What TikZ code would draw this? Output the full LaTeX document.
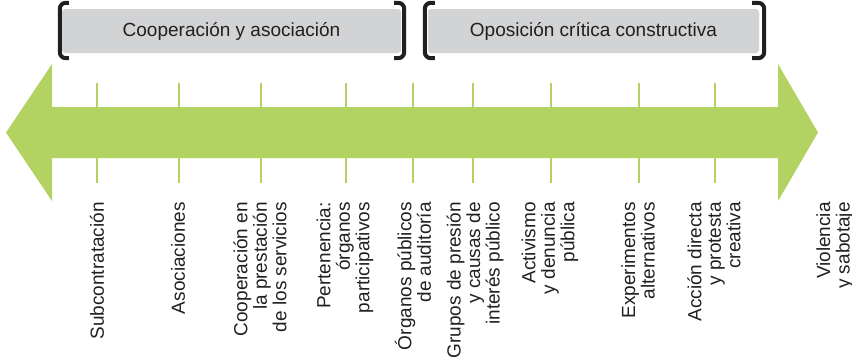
\documentclass[tikz,border=0pt]{standalone}
\usepackage{fontspec}
\setmainfont{Liberation Sans}
\definecolor{leaf}{HTML}{B2D362}
\definecolor{boxgrey}{HTML}{D1D3D4}
\definecolor{ink}{HTML}{231F20}
\begin{document}
\begin{tikzpicture}[
    x=1pt, y=-1pt,
    groupbox/.style={
        fill=boxgrey, rounded corners=3pt, inner sep=0pt,
        minimum height=44pt,
        font=\fontsize{19}{19.5}\selectfont, text=ink,
    },
    bracket/.style={draw=ink, line width=4pt, rounded corners=6pt},
    tick/.style={draw=leaf, line width=2.5pt},
    stagelabel/.style={
        rotate=90, anchor=east, inner sep=0pt, align=right,
        font=\fontsize{19}{19.5}\selectfont, text=ink,
    },
]
\useasboundingbox (0,0) rectangle (852,360);

% ── Ticks ──
\foreach \x in {97,179,261,346,413,473,551,639,715}
    \draw[tick] (\x,83) -- (\x,183);

% ── Double arrow ──
\fill[leaf] (6,132.5) -- (52,64) -- (52,107) -- (778,107) -- (778,64)
    -- (818,132.5) -- (778,201) -- (778,158) -- (52,158) -- (52,201) -- cycle;

% ── Group boxes ──
\node[groupbox, minimum width=339pt] (coop) at (231.5,31) {Cooperación y asociación};
\node[groupbox, minimum width=331pt] (oppo) at (593.5,31) {Oposición crítica constructiva};

% ── Brackets ──
\draw[bracket] ([xshift=7pt,yshift=6pt]coop.north west) -- ([xshift=-2pt,yshift=6pt]coop.north west)
    -- ([xshift=-2pt,yshift=-5pt]coop.south west) -- ([xshift=7pt,yshift=-5pt]coop.south west);
\draw[bracket] ([xshift=-7pt,yshift=6pt]coop.north east) -- ([xshift=3pt,yshift=6pt]coop.north east)
    -- ([xshift=3pt,yshift=-5pt]coop.south east) -- ([xshift=-7pt,yshift=-5pt]coop.south east);
\draw[bracket] ([xshift=7pt,yshift=6pt]oppo.north west) -- ([xshift=-3pt,yshift=6pt]oppo.north west)
    -- ([xshift=-3pt,yshift=-5pt]oppo.south west) -- ([xshift=7pt,yshift=-5pt]oppo.south west);
\draw[bracket] ([xshift=-7pt,yshift=6pt]oppo.north east) -- ([xshift=5pt,yshift=6pt]oppo.north east)
    -- ([xshift=5pt,yshift=-5pt]oppo.south east) -- ([xshift=-7pt,yshift=-5pt]oppo.south east);

% ── Stage labels ──
\node[stagelabel] (subc) at (97,202) {Subcontratación};
\node[stagelabel] (asoc) at (178,202) {Asociaciones};
\node[stagelabel] (serv) at (260,202) {Cooperación en\\la prestación\\de los servicios};
\node[stagelabel] (pert) at (345,202) {Pertenencia:\\órganos\\participativos};
\node[stagelabel] (audi) at (413,202) {Órganos públicos\\de auditoría};
\node[stagelabel] (grup) at (475,202) {Grupos de presión\\y causas de\\interés público};
\node[stagelabel] (acti) at (550,202) {Activismo\\y denuncia\\pública};
\node[stagelabel] (expe) at (638,202) {Experimentos\\alternativos};
\node[stagelabel] (acci) at (714,202) {Acción directa\\y protesta\\creativa};
\node[stagelabel] (viol) at (835,202) {Violencia\\y sabotaje};

\end{tikzpicture}
\end{document}
